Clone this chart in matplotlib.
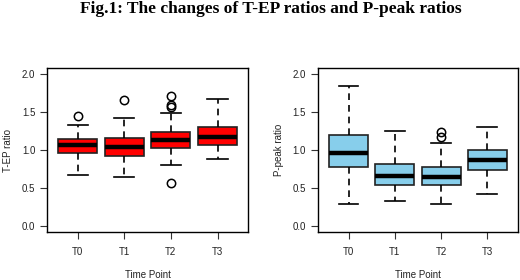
import matplotlib
matplotlib.use("Agg")
import matplotlib.pyplot as plt

# Box statistics
time_points = ["T0", "T1", "T2", "T3"]

tep_whislo = [0.675, 0.649, 0.803, 0.879]
tep_q1 = [0.958, 0.923, 1.024, 1.073]
tep_med = [1.064, 1.040, 1.130, 1.170]
tep_q3 = [1.148, 1.157, 1.232, 1.307]
tep_whishi = [1.325, 1.420, 1.490, 1.673]
tep_fliers = [[1.444], [1.665], [1.717, 1.598, 1.567, 0.570], []]

pp_whislo = [0.296, 0.331, 0.287, 0.428]
pp_q1 = [0.777, 0.539, 0.534, 0.733]
pp_med = [0.967, 0.658, 0.645, 0.874]
pp_q3 = [1.200, 0.821, 0.773, 1.002]
pp_whishi = [1.837, 1.245, 1.095, 1.302]
pp_fliers = [[], [], [1.232, 1.175], []]

plt.rcParams["font.family"] = ["Liberation Sans", "DejaVu Sans"]

fig = plt.figure(figsize=(5.2, 2.8), dpi=100)
fig.text(0.521, 0.967, "Fig.1: The changes of T-EP ratios and P-peak ratios",
         ha="center", va="center", fontsize=12.5, fontweight="bold",
         family=["Liberation Serif", "DejaVu Serif"])


def make_stats(lo, q1, med, q3, hi, fl):
    return [dict(whislo=lo[i], q1=q1[i], med=med[i], q3=q3[i], whishi=hi[i],
                 fliers=fl[i], label=time_points[i]) for i in range(len(lo))]


def draw_panel(rect, stats, color, ylabel):
    ax = fig.add_axes(rect)
    ax.bxp(stats, positions=[1, 2, 3, 4], widths=0.84, capwidths=0.43,
           patch_artist=True,
           boxprops=dict(facecolor=color, edgecolor="#222222", linewidth=1.2),
           medianprops=dict(color="black", linewidth=3.2, solid_capstyle="butt"),
           whiskerprops=dict(color="black", linewidth=1.2, linestyle=(0, (4, 3))),
           capprops=dict(color="black", linewidth=1.2),
           flierprops=dict(marker="o", markerfacecolor="none",
                           markeredgecolor="black", markersize=6,
                           markeredgewidth=1.1))
    ax.set_xlim(0.34, 4.66)
    ax.set_ylim(-0.08, 2.08)
    ax.set_yticks([0.0, 0.5, 1.0, 1.5, 2.0])
    ax.set_yticklabels(["0.0", "0.5", "1.0", "1.5", "2.0"])
    ax.tick_params(labelsize=7, length=5, width=0.8, color="#333333",
                   labelcolor="#222222")
    ax.tick_params(axis="x", pad=6)
    for s in ax.spines.values():
        s.set_linewidth(1.0)
    ax.set_ylabel(ylabel, fontsize=7, color="#222222", labelpad=6)
    ax.set_xlabel("Time Point", fontsize=7, color="#222222", labelpad=9)
    return ax


draw_panel([0.0904, 0.171, 0.387, 0.586],
           make_stats(tep_whislo, tep_q1, tep_med, tep_q3, tep_whishi, tep_fliers),
           "#FF0000", "T-EP ratio")
draw_panel([0.6115, 0.171, 0.3845, 0.586],
           make_stats(pp_whislo, pp_q1, pp_med, pp_q3, pp_whishi, pp_fliers),
           "#87CEEB", "P-peak ratio")

fig.savefig("out.png", dpi=100)
